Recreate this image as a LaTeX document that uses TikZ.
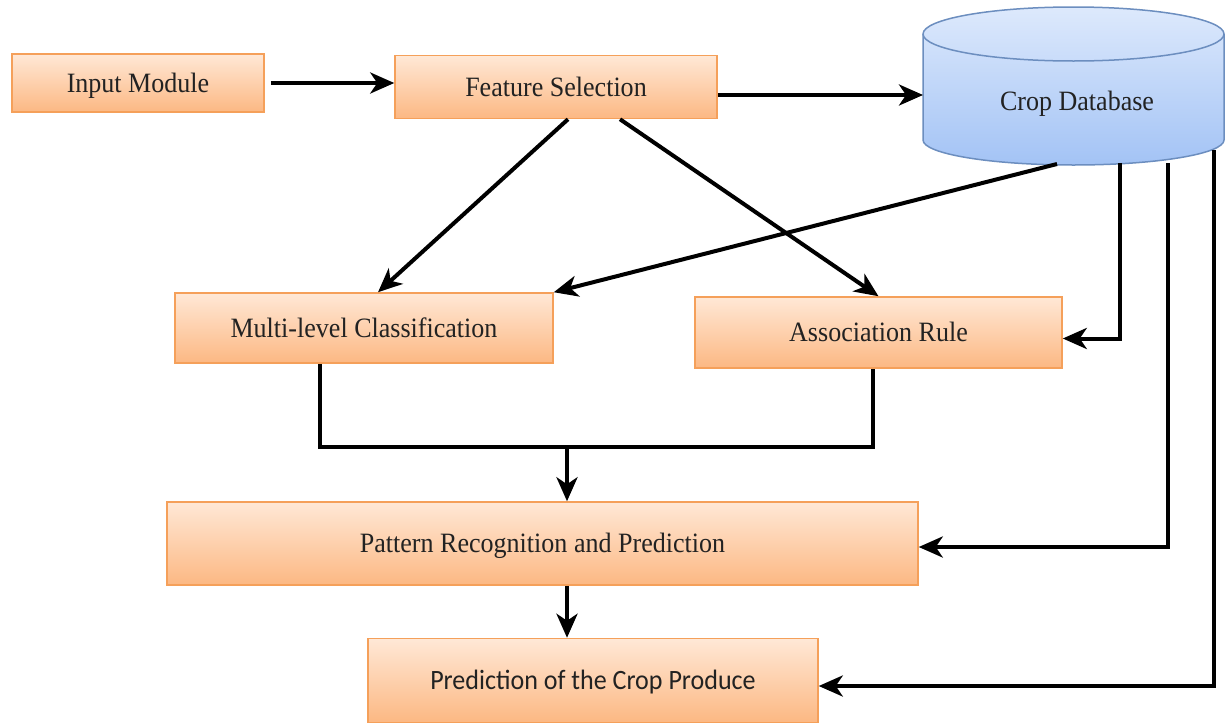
\documentclass[tikz,border=0pt]{standalone}
\usepackage{fontspec}
\setmainfont{Liberation Serif}[FakeStretch=0.93]
\newfontfamily\carl{Carlito}[FakeStretch=0.93]
\usetikzlibrary{arrows.meta,calc}
\definecolor{orTop}{HTML}{FFE8D6}
\definecolor{orBot}{HTML}{FCB883}
\definecolor{orLine}{HTML}{F5A05A}
\definecolor{blTop}{HTML}{DDE9FC}
\definecolor{blBot}{HTML}{A3C3F5}
\definecolor{blLine}{HTML}{6C8EBF}
\definecolor{txt}{HTML}{222222}
\tikzset{
  obox/.style={rectangle, draw=orLine, line width=1.5pt, top color=orTop, bottom color=orBot,
    text=txt, font=\fontsize{28}{32}\selectfont, inner sep=0pt, text height=18.5pt, text depth=0pt},
  conn/.style={line width=4pt, draw=black, line join=miter},
  arr/.style={conn, -{Stealth[length=24pt,width=21pt,inset=7pt]}},
}
\begin{document}
\begin{tikzpicture}[x=1pt,y=-1pt]
\useasboundingbox (0,0) rectangle (1225,723);
% boxes
\node[obox, minimum width=252pt, minimum height=58pt] (in) at (138,83) {Input Module};
\node[obox, minimum width=322pt, minimum height=63pt] (fs) at (556,87) {Feature Selection};
\node[obox, minimum width=378pt, minimum height=70pt] (mc) at (364,328) {Multi-level Classification};
\node[obox, minimum width=367pt, minimum height=71pt] (ar) at (878.5,332.5) {Association Rule};
\node[obox, minimum width=751pt, minimum height=83pt] (pr) at (542.5,543.5) {Pattern Recognition and Prediction};
\node[obox, minimum width=450pt, minimum height=84pt, font=\carl\fontsize{28}{32}\selectfont] (pc) at (593,680.5) {Prediction of the Crop Produce};
% cylinder
\shade[top color=blTop, bottom color=blBot, draw=blLine, line width=1.5pt]
  (923,34) -- (923,140) arc[start angle=180, end angle=360, x radius=150.5pt, y radius=25pt]
  -- (1224,34) arc[start angle=0, end angle=180, x radius=150.5pt, y radius=27pt] -- cycle;
\draw[blLine, line width=1.5pt] (923,34) arc[start angle=180, end angle=360, x radius=150.5pt, y radius=27pt];
\node[text=txt, font=\fontsize{28}{32}\selectfont, text height=18.5pt, text depth=0pt, inner sep=0pt] (db) at (1077,101) {Crop Database};
\coordinate (dbL) at (923,95);
\coordinate (dbA) at (1057,164);
\coordinate (dbB) at (1120,163);
\coordinate (dbC) at (1168,163);
\coordinate (dbD) at (1214,150);
\coordinate (j) at (567,447);
% connectors
\draw[arr] ([xshift=6pt]in.east) -- (in.east -| fs.west);
\draw[arr] ([yshift=-8pt]fs.east) -- (dbL);
\draw[arr] ([xshift=12pt]fs.south) -- ([xshift=14pt]mc.north);
\draw[arr] ([xshift=64pt]fs.south) -- (ar.north);
\draw[arr] (dbA) -- (mc.north east);
\draw[arr] (dbB) |- ([yshift=-6pt]ar.east);
\draw[arr] (dbC) |- ([yshift=-3.5pt]pr.east);
\draw[arr] (dbD) |- ([yshift=-5.5pt]pc.east);
\draw[conn] ([xshift=-44pt]mc.south) |- (j) -| ([xshift=-5.5pt]ar.south);
\draw[arr] (j) -- (j |- pr.north);
\draw[arr] ([xshift=24.5pt]pr.south) -- ([xshift=24.5pt]pr.south |- pc.north);
\end{tikzpicture}
\end{document}
